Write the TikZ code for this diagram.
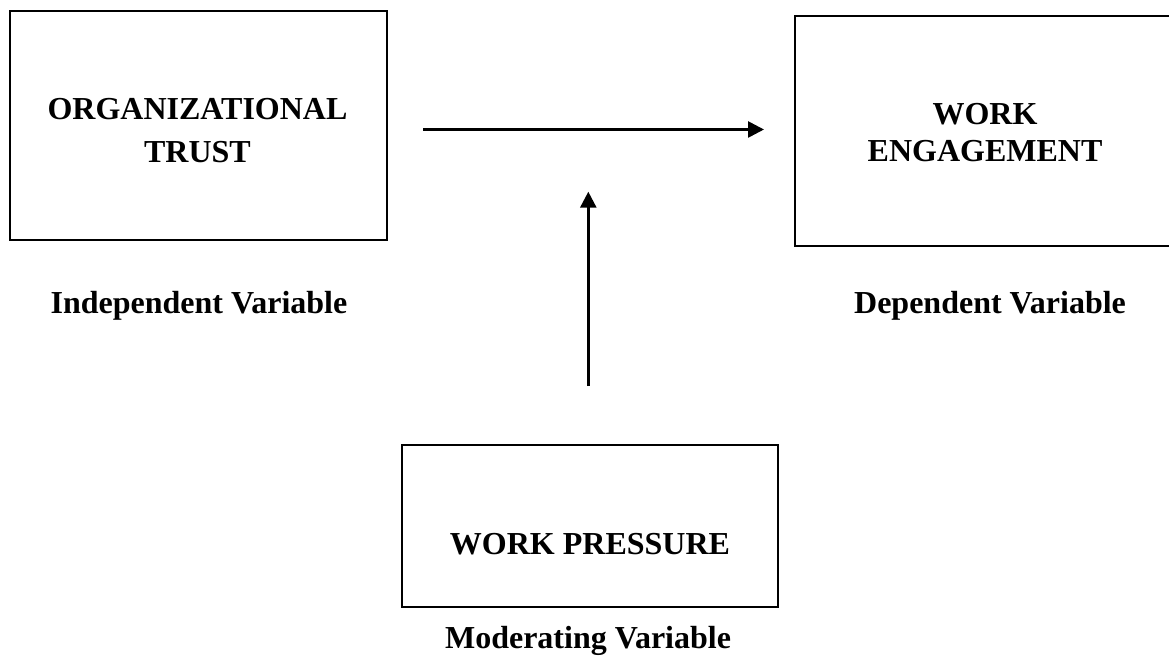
\documentclass[tikz,border=0pt]{standalone}
\usepackage{fontspec}
\setmainfont{Liberation Serif}
\usetikzlibrary{arrows.meta}

\tikzset{
  varbox/.style={draw=black, line width=1.6pt, fill=none, inner sep=0pt},
  boxtext/.style={font=\fontsize{24pt}{28pt}\selectfont\bfseries, inner sep=0pt, anchor=base},
  conn/.style={line width=2pt, -{Triangle[length=12pt, width=12pt]}}
}

\begin{document}
\begin{tikzpicture}[x=0.75pt, y=-0.75pt]
  \useasboundingbox (0,0) rectangle (1169,666);
  \clip (0,0) rectangle (1169,666);

  % variable boxes
  \node[varbox, minimum width=377*0.75pt, minimum height=229*0.75pt] (trust) at (198.5,125.5) {};
  \node[varbox, minimum width=377*0.75pt, minimum height=230*0.75pt] (engage) at (983.5,131) {};
  \node[varbox, minimum width=376*0.75pt, minimum height=162*0.75pt] (pressure) at (590,525.6) {};

  % box titles
  \node[boxtext] (trustA) at (197.5,120) {ORGANIZATIONAL};
  \node[boxtext] (trustB) at (197.5,163) {TRUST};
  \node[boxtext] (engageA) at (985,125) {WORK};
  \node[boxtext] (engageB) at (985,162) {ENGAGEMENT};
  \node[boxtext] (pressureA) at (590,554) {WORK PRESSURE};

  % variable roles
  \node[boxtext] (indep) at (199,313) {Independent Variable};
  \node[boxtext] (dep) at (990,313) {Dependent Variable};
  \node[boxtext] (moder) at (588,648) {Moderating Variable};

  % connector ends
  \coordinate (mainStart) at (423,129.5);
  \coordinate (mainEnd) at (764,129.5);
  \coordinate (modStart) at (588.3,386);
  \coordinate (modEnd) at (588.3,191.7);

  \draw[conn] (mainStart) -- (mainEnd);
  \draw[conn] (modStart) -- (modEnd);
\end{tikzpicture}
\end{document}
